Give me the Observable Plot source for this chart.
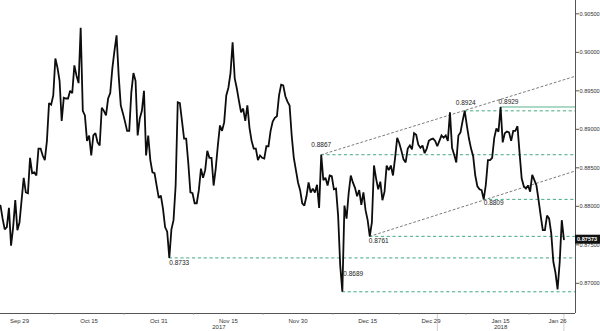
<!DOCTYPE html>
<html><head><meta charset="utf-8">
<script src="https://cdn.jsdelivr.net/npm/d3@7"></script>
<script src="https://cdn.jsdelivr.net/npm/@observablehq/plot@0.6"></script>
<style>
html,body{margin:0;padding:0;background:#fff;}
#chart svg{display:block;}
</style></head><body><div id="chart"></div>
<script>
// ---- data ----
const baseDate = "2017-09-29";          // trading-day index 0 (weekdays only axis)
const seriesStart = "2017-09-26T00:00"; // first sample
const stepHours = 8;                    // one value every 8 trading hours
const prices = [
0.8801,0.8784,0.8770,0.8773,0.8798,0.8749,0.8773,0.8808,0.8769,0.8779,
0.8808,0.8837,0.8818,0.8817,0.8863,0.8843,0.8844,0.8840,0.8875,0.8875,
0.8866,0.8860,0.8885,0.8934,0.8932,0.8944,0.8992,0.8980,0.8963,0.8911,
0.8941,0.8940,0.8940,0.8950,0.8947,0.8983,0.8970,0.8960,0.9032,0.8924,
0.8918,0.8885,0.8892,0.8866,0.8892,0.8895,0.8883,0.8879,0.8928,0.8924,
0.8918,0.8940,0.8947,0.8979,0.9002,0.9022,0.8970,0.8931,0.8921,0.8910,
0.8898,0.8898,0.8948,0.8973,0.8963,0.8892,0.8914,0.8924,0.8950,0.8866,
0.8892,0.8860,0.8844,0.8843,0.8827,0.8811,0.8814,0.8797,0.8773,0.8767,
0.8733,0.8770,0.8782,0.8827,0.8935,0.8934,0.8911,0.8888,0.8888,0.8856,
0.8818,0.8817,0.8804,0.8804,0.8821,0.8849,0.8837,0.8847,0.8872,0.8863,
0.8863,0.8827,0.8849,0.8879,0.8905,0.8898,0.8909,0.8944,0.8954,0.8973,
0.9013,0.8966,0.8953,0.8937,0.8922,0.8927,0.8911,0.8931,0.8902,0.8885,
0.8875,0.8875,0.8860,0.8866,0.8863,0.8862,0.8878,0.8878,0.8898,0.8910,
0.8915,0.8917,0.8944,0.8958,0.8957,0.8943,0.8936,0.8931,0.8892,0.8863,
0.8847,0.8831,0.8821,0.8804,0.8801,0.8813,0.8831,0.8818,0.8823,0.8818,
0.8828,0.8798,0.8867,0.8834,0.8837,0.8827,0.8840,0.8839,0.8822,0.8823,
0.8788,0.8723,0.8689,0.8801,0.8784,0.8817,0.8840,0.8831,0.8824,0.8813,
0.8821,0.8802,0.8818,0.8795,0.8782,0.8761,0.8779,0.8853,0.8836,0.8822,
0.8832,0.8808,0.8819,0.8853,0.8847,0.8853,0.8840,0.8863,0.8889,0.8882,
0.8872,0.8861,0.8857,0.8875,0.8879,0.8874,0.8895,0.8893,0.8880,0.8876,
0.8879,0.8869,0.8875,0.8885,0.8887,0.8888,0.8885,0.8878,0.8885,0.8892,
0.8889,0.8892,0.8885,0.8922,0.8876,0.8867,0.8857,0.8892,0.8896,0.8911,
0.8924,0.8905,0.8888,0.8875,0.8865,0.8840,0.8826,0.8822,0.8821,0.8809,
0.8828,0.8860,0.8860,0.8863,0.8889,0.8901,0.8897,0.8929,0.8883,0.8895,
0.8897,0.8896,0.8885,0.8898,0.8898,0.8904,0.8869,0.8836,0.8826,0.8823,
0.8827,0.8819,0.8841,0.8834,0.8827,0.8808,0.8788,0.8769,0.8769,0.8788,
0.8784,0.8765,0.8728,0.8714,0.8692,0.8727,0.8782,0.8757
];
const lastPrice = 0.87573;

const xLabelDates = ["2017-09-29","2017-10-15","2017-10-31","2017-11-15","2017-11-30","2017-12-15","2017-12-29","2018-01-15","2018-01-26"];
const xLabels = ["Sep 29","Oct 15","Oct 31","Nov 15","Nov 30","Dec 15","Dec 29","Jan 15","Jan 26"];
const years = ["2017","2018"];
const yearBreak = "2018-01-01T00:00";
const yTicks = [0.870,0.875,0.880,0.885,0.890,0.895,0.900,0.905];
const xDomainDates = ["2017-09-26T00:00","2018-01-30T20:00"];
const yDomain = [0.86608, 0.90673];

const levelValues = [0.8733, 0.8867, 0.8689, 0.8761, 0.8924, 0.8809];
const levelDates  = ["2017-11-01T16:00","2017-12-05T16:00","2017-12-11T00:00","2017-12-15T08:00","2018-01-05T08:00","2018-01-10T08:00"];
const resistValue = 0.8929;
const resistDate = "2018-01-15T00:00";
const upperChannelDates = ["2017-12-05T16:00","2018-01-30T20:00"];
const upperChannelValues = [0.8867, 0.8969];
const lowerChannelDates = ["2017-12-15T08:00","2018-01-30T20:00"];
const lowerChannelValues = [0.8761, 0.8846];

// ---- trading-day index (weekdays only) ----
const DAY = 864e5;
const base = Date.parse(baseDate + "T00:00Z");
function isWeekday(ms){ const w = new Date(ms).getUTCDay(); return w !== 0 && w !== 6; }
function tradingIndex(s){
  const t = Date.parse((s.length <= 10 ? s + "T00:00" : s) + "Z");
  const ds = Math.floor(t / DAY) * DAY;
  let n = 0;
  if (ds >= base) { for (let d = base; d < ds; d += DAY) if (isWeekday(d)) n++; }
  else { for (let d = ds; d < base; d += DAY) if (isWeekday(d)) n--; }
  if (isWeekday(ds)) n += (t - ds) / DAY;
  return n;
}

const x0 = tradingIndex(seriesStart);
const series = prices.map((v, i) => ({x: x0 + i * stepHours / 24, y: v}));
const xDomain = xDomainDates.map(tradingIndex);
const xMax = xDomain[1];
const tickIdx = xLabelDates.map(tradingIndex);
const labelByIdx = new Map(tickIdx.map((t, i) => [t, xLabels[i]]));
const minorTicks = tickIdx.slice(1).map((t, i) => (t + tickIdx[i]) / 2);
const breakIdx = tradingIndex(yearBreak);
const endIdx = series[series.length - 1].x;
const yearData = [
  {label: years[0], x: (xDomain[0] + breakIdx) / 2},
  {label: years[1], x: (breakIdx + endIdx) / 2}
];
const levels = levelValues.map((v, i) => ({level: v, x: tradingIndex(levelDates[i])}));
const upper = upperChannelDates.map((d, i) => ({x: tradingIndex(d), y: upperChannelValues[i]}));
const lower = lowerChannelDates.map((d, i) => ({x: tradingIndex(d), y: lowerChannelValues[i]}));
const resist = [{level: resistValue, x: tradingIndex(resistDate)}];

const green = "#45a982";
const fmt4 = d3.format(".4f");
const labelOpts = {
  "0.8733": {textAnchor: "start", dx: 0, dy: 5},
  "0.8867": {textAnchor: "middle", dx: 0, dy: -9.5},
  "0.8689": {textAnchor: "start", dx: 1, dy: -17.5},
  "0.8761": {textAnchor: "start", dx: -1, dy: 4.5},
  "0.8924": {textAnchor: "middle", dx: 1, dy: -8},
  "0.8809": {textAnchor: "start", dx: 0, dy: 4}
};
const font = "'Liberation Sans', Arial, sans-serif";

const levelLabelMarks = levels.map(d => Plot.text([d], {
  x: "x", y: "level", text: d => fmt4(d.level), fontSize: 6.5, fill: "#1a1a1a",
  lineAnchor: "middle", ...labelOpts[fmt4(d.level)]
}));

const chart = Plot.plot({
  width: 600, height: 331,
  marginLeft: 0, marginRight: 25, marginTop: 0, marginBottom: 18,
  x: {type: "linear", domain: xDomain, axis: null},
  y: {domain: yDomain, axis: null},
  style: {fontFamily: font, background: "#fff", color: "#333"},
  marks: [
    Plot.ruleX([breakIdx, endIdx], {stroke: "#cfcfcf", insetTop: 313, insetBottom: -18}),
    Plot.ruleY(levels, {y: "level", x1: "x", x2: () => xMax, stroke: green, strokeWidth: 1, strokeDasharray: "3.2,2.6"}),
    Plot.ruleY(resist, {y: "level", x1: "x", x2: () => xMax, stroke: green, strokeWidth: 0.9}),
    Plot.line(upper, {x: "x", y: "y", stroke: "#7c7c7c", strokeWidth: 1, strokeDasharray: "2,2.6"}),
    Plot.line(lower, {x: "x", y: "y", stroke: "#7c7c7c", strokeWidth: 1, strokeDasharray: "2,2.6"}),
    Plot.line(series, {x: "x", y: "y", stroke: "#0d0d0d", strokeWidth: 1.8, strokeLinejoin: "miter", strokeMiterlimit: 2}),
    ...levelLabelMarks,
    Plot.text(resist, {x: "x", y: "level", text: d => fmt4(d.level), fontSize: 6.5, fill: "#1a1a1a", textAnchor: "start", dx: -2, dy: -4.8}),
    Plot.ruleY([yDomain[0]], {stroke: "#555", strokeWidth: 1}),
    Plot.ruleX([xMax], {stroke: "#555", strokeWidth: 1}),
    Plot.axisY({anchor: "right", label: null, ticks: yTicks, tickFormat: d3.format(".5f"), tickSize: 3, tickPadding: 1, fontSize: 5.6, stroke: "#555"}),
    Plot.axisX({label: null, ticks: tickIdx, tickFormat: d => labelByIdx.get(d), tickSize: 0, tickPadding: 5.5, fontSize: 6}),
    Plot.axisX({label: null, ticks: minorTicks, tickFormat: () => "", tickSize: 1.5, stroke: "#777"}),
    Plot.text(yearData, {x: "x", text: "label", frameAnchor: "bottom", dy: 15, fontSize: 6}),
    Plot.ruleY([lastPrice], {x1: () => xMax, x2: () => xMax, insetRight: -25, stroke: "#111", strokeWidth: 9}),
    Plot.text([lastPrice], {x: () => xMax, y: d => d, text: d => d3.format(".5f")(d), textAnchor: "start", dx: 1.5, fontSize: 5.6, fontWeight: "bold", fill: "#fff"})
  ]
});
document.getElementById("chart").appendChild(chart);
</script>
</body></html>
